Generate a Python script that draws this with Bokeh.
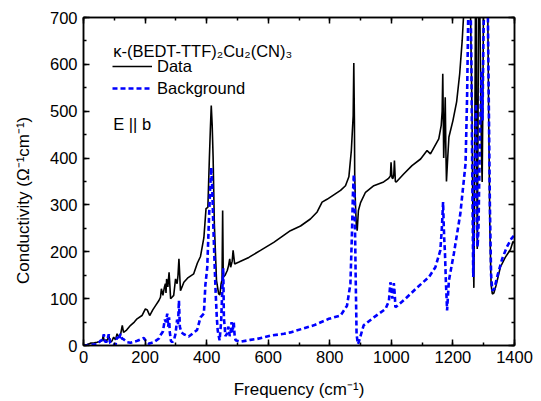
from bokeh.plotting import figure
from bokeh.models import (Range1d, LinearAxis, SingleIntervalTicker, Legend,
                          LegendItem, Label)
from bokeh.embed import file_html
from bokeh.resources import INLINE

# ---------------- data ----------------
freq_data = [0, 12, 23, 35, 44, 55, 61, 64, 67, 71, 78, 82, 86, 92, 98, 104, 109, 115,
             120, 126, 130, 140, 153, 165, 174, 190, 201, 207, 215, 225, 234, 245, 250,
             253, 258, 263, 266, 268, 270, 274, 278, 283, 289, 293, 299, 304, 307, 310,
             315, 320, 326, 340, 358, 370, 380, 391, 398, 404, 409, 412, 415, 418, 421,
             425, 432, 439, 443, 447, 450, 452, 454, 460, 467, 471, 475, 478, 483, 486,
             491, 505, 537, 575, 618, 672, 705, 737, 759, 775, 791, 835, 851, 862, 870,
             876, 878, 880, 881, 883, 886, 889, 893, 900, 916, 943, 975, 990, 997, 999,
             1002, 1005, 1008, 1010, 1013, 1016, 1040, 1067, 1095, 1116, 1127, 1154,
             1162, 1165, 1167, 1169, 1170, 1173, 1175, 1177, 1179, 1183, 1187, 1200,
             1212, 1222, 1230, 1236, 1242, 1255, 1262, 1265, 1268, 1270, 1273, 1275,
             1277, 1279, 1281, 1283, 1286, 1291, 1293, 1295, 1297, 1300, 1312, 1316,
             1320, 1324, 1328, 1333, 1340, 1354, 1370, 1387, 1395, 1400]
sigma_data = [0, 2, 5, 6, 7, 9, 11, 21, 10, 11, 12, 22, 8, 9, 18, 12, 25, 18,
              22, 43, 28, 33, 43, 50, 57, 64, 78, 76, 64, 76, 85, 96, 103,
              121, 107, 125, 132, 112, 142, 125, 156, 100, 104, 107, 142, 132, 150, 185,
              117, 125, 135, 145, 153, 176, 190, 230, 292, 295, 402, 460, 512, 470, 402,
              260, 139, 110, 108, 132, 140, 288, 146, 150, 160, 170, 185, 167, 180, 203,
              174, 178, 188, 203, 220, 245, 255, 270, 285, 306, 312, 331, 341, 360, 416,
              490, 603, 480, 363, 309, 260, 245, 288, 305, 327, 341, 349, 356, 362, 391,
              358, 356, 365, 395, 350, 349, 366, 384, 398, 416, 409, 441,
              470, 500, 580, 470, 400, 470, 530, 420, 350, 400, 445, 480,
              520, 580, 650, 720, 800, 800, 500, 250, 123, 300, 700, 800,
              450, 206, 400, 700, 800, 500, 400, 349, 500, 800, 800, 500,
              250, 130, 110, 112, 128, 167, 188, 205, 222, 218]

freq_bg = [0, 23, 45, 55, 63, 66, 70, 76, 82, 87, 93, 104, 109, 115, 120, 125, 131, 142,
           153, 175, 196, 204, 212, 228, 245, 250, 258, 264, 268, 272, 275, 278, 280,
           284, 288, 294, 299, 304, 307, 310, 313, 318, 326, 342, 369, 380, 391, 396,
           402, 407, 411, 415, 418, 421, 425, 429, 433, 436, 442, 447, 450, 454, 456,
           461, 466, 470, 472, 475, 478, 481, 484, 488, 491, 494, 510, 542, 564, 607,
           651, 672, 748, 797, 835, 856, 867, 872, 875, 878, 880, 882, 884, 887, 891,
           894, 910, 943, 981, 992, 997, 1000, 1003, 1008, 1011, 1013, 1020, 1046,
           1084, 1122, 1143, 1159, 1164, 1168, 1170, 1172, 1174, 1177, 1181, 1187,
           1203, 1224, 1241, 1246, 1250, 1256, 1260, 1263, 1266, 1270, 1275, 1278,
           1280, 1283, 1287, 1293, 1296, 1299, 1303, 1312, 1316, 1320, 1324, 1328,
           1335, 1345, 1360, 1375, 1390, 1400]
sigma_bg = [0, 1, 3, 10, 12, 24, 8, 8, 24, 5, 2, 1, 18, 12, 25, 15, 13, 7,
            6, 10, 16, 8, 4, 7, 15, 22, 30, 55, 50, 68, 40, 60, 30,
            10, 7, 12, 25, 55, 45, 96, 40, 28, 24, 19, 33, 60, 68, 130,
            167, 260, 330, 380, 340, 270, 190, 117, 60, 32, 11, 50, 103, 165, 60,
            20, 25, 40, 36, 20, 30, 50, 28, 50, 20, 11, 8, 12, 14, 21,
            25, 28, 43, 57, 64, 85, 132, 239, 320, 365, 330, 250, 150, 25, 3,
            7, 43, 60, 78, 95, 135, 120, 100, 133, 110, 82, 85, 100,
            124, 146, 167, 203, 250, 306, 260, 224, 200, 139, 75, 139,
            196, 281, 388, 530, 720, 800, 600, 350, 146, 330, 516, 300,
            210, 250, 420, 587, 480, 650, 800, 800, 550, 300, 150, 117,
            122, 150, 185, 210, 228, 236]

x_ticks_interval = 200
y_ticks_interval = 100
title_text = "\u03ba-(BEDT-TTF)\u2082Cu\u2082(CN)\u2083"
field_text = "E || b"
x_label = "Frequency (cm\u207b\u00b9)"
y_label = "Conductivity (\u03a9\u207b\u00b9cm\u207b\u00b9)" + "\u00a0" * 8

FONT = "Liberation Sans"
FS = "16.5px"
FS_LABEL = "17px"

p = figure(width=541, height=401, x_range=Range1d(0, 1400), y_range=Range1d(0, 700),
           output_backend="svg", toolbar_location=None,
           min_border_left=83, min_border_right=27, min_border_top=17,
           min_border_bottom=56)
p.xgrid.visible = False
p.ygrid.visible = False
p.outline_line_color = "black"
p.outline_line_width = 1.5
p.background_fill_color = "white"
p.border_fill_color = "white"


def style(ax, show_labels=True):
    ax.axis_line_width = 1.5
    ax.axis_line_color = "black"
    ax.major_tick_in = 6
    ax.major_tick_out = 0
    ax.minor_tick_in = 3
    ax.minor_tick_out = 0
    ax.major_tick_line_width = 1.5
    ax.minor_tick_line_width = 1.5
    ax.major_tick_line_color = "black"
    ax.minor_tick_line_color = "black"
    if show_labels:
        ax.major_label_text_font = FONT
        ax.major_label_text_font_size = FS
        ax.major_label_text_color = "black"
        ax.axis_label_text_font = FONT
        ax.axis_label_text_font_size = FS_LABEL
        ax.axis_label_text_font_style = "normal"
        ax.axis_label_text_color = "black"
    else:
        ax.major_label_text_font_size = "1px"
        ax.major_label_text_color = None
        ax.major_label_standoff = 0


xax = p.xaxis[0]
yax = p.yaxis[0]
xax.ticker = SingleIntervalTicker(interval=x_ticks_interval, num_minor_ticks=2)
yax.ticker = SingleIntervalTicker(interval=y_ticks_interval, num_minor_ticks=2)
style(xax)
style(yax)
xax.axis_label = x_label
yax.axis_label = y_label
xax.major_label_standoff = 5
yax.major_label_standoff = 6
xax.axis_label_standoff = 14
yax.axis_label_standoff = 14

top = LinearAxis(ticker=SingleIntervalTicker(interval=x_ticks_interval, num_minor_ticks=2))
right = LinearAxis(ticker=SingleIntervalTicker(interval=y_ticks_interval, num_minor_ticks=2))
style(top, False)
style(right, False)
p.add_layout(top, "above")
p.add_layout(right, "right")

r1 = p.line(freq_data, sigma_data, line_color="black", line_width=1.6)
r2 = p.line(freq_bg, sigma_bg, line_color="#0000ff", line_width=2.6, line_dash="5 3")

legend = Legend(items=[LegendItem(label="Data", renderers=[r1]),
                       LegendItem(label="Background", renderers=[r2])],
                location=(29, 247), padding=0, margin=0, spacing=2,
                glyph_width=40, glyph_height=20, label_height=20, label_standoff=5,
                label_text_font=FONT, label_text_font_size=FS,
                label_text_color="black",
                border_line_alpha=0, background_fill_alpha=0)
p.add_layout(legend)

p.add_layout(Label(x=96.5, y=629, text=title_text, text_font=FONT,
                   text_font_size=FS, text_color="black",
                   text_baseline="alphabetic"))
p.add_layout(Label(x=96.5, y=473, text=field_text, text_font=FONT,
                   text_font_size=FS, text_color="black",
                   text_baseline="alphabetic"))

open("out.html", "w").write(file_html(p, INLINE))
